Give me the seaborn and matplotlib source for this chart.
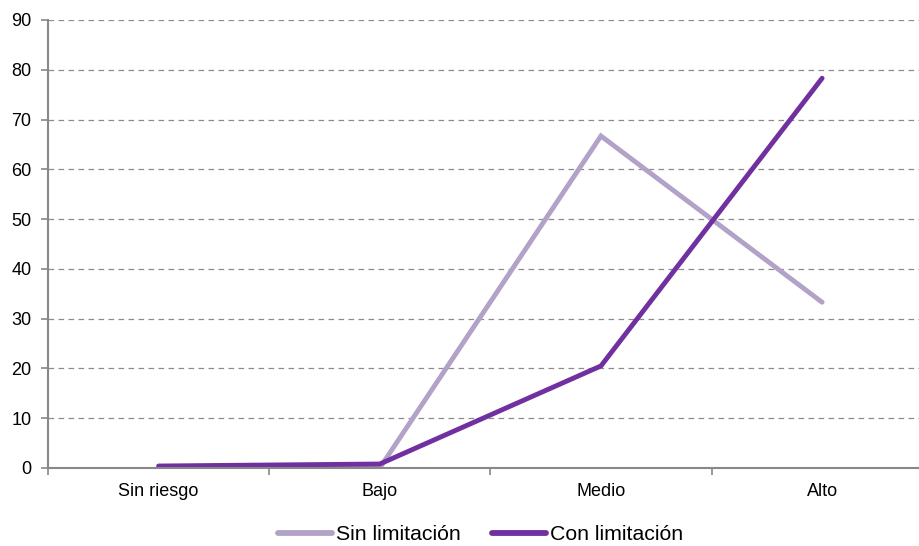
import matplotlib
matplotlib.use("Agg")
import matplotlib.pyplot as plt
import seaborn as sns
import pandas as pd
from matplotlib.ticker import FixedLocator
from matplotlib.lines import Line2D

categories = ["Sin riesgo", "Bajo", "Medio", "Alto"]
sin_limitacion = [0.0, 0.0, 66.7, 33.3]
con_limitacion = [0.4, 0.8, 20.5, 78.3]
series_names = ["Sin limitación", "Con limitación"]
y_ticks = [0, 10, 20, 30, 40, 50, 60, 70, 80, 90]

df = pd.DataFrame({
    "categoria": categories * 2,
    "valor": sin_limitacion + con_limitacion,
    "serie": [series_names[0]] * len(categories) + [series_names[1]] * len(categories),
})

sns.set_theme(style="white")
plt.rcParams["font.family"] = ["Liberation Sans", "DejaVu Sans"]
plt.rcParams["text.color"] = "black"

fig = plt.figure(figsize=(9.19, 5.46), dpi=100)
ax = fig.add_axes([48 / 919, 78 / 546, 884.7 / 919, 448 / 546])

palette = {series_names[0]: "#B3A2C7", series_names[1]: "#7030A0"}
sns.lineplot(data=df, x="categoria", y="valor", hue="serie", palette=palette,
             linewidth=3.5, ax=ax, sort=False, legend=False,
             solid_capstyle="round", solid_joinstyle="miter")

ax.set_xlim(-0.5, 3.5)
ax.set_ylim(0, 90)
ax.set_yticks(y_ticks)
ax.set_xticks(range(len(categories)))
ax.set_xticklabels(categories)
ax.xaxis.set_minor_locator(FixedLocator([-0.5, 0.5, 1.5, 2.5, 3.5]))
ax.set_xlabel("")
ax.set_ylabel("")

grid_color = "#8C8C8C"
for v in y_ticks[1:]:
    ax.axhline(v, color=grid_color, linewidth=0.9, linestyle=(0, (4.5, 3.5)), zorder=0)

for s in ["top", "right"]:
    ax.spines[s].set_visible(False)
for s in ["left", "bottom"]:
    ax.spines[s].set_color("#888888")
    ax.spines[s].set_linewidth(1.5)

ax.tick_params(axis="y", which="major", length=5, width=1.2, color="#888888",
               labelsize=13, labelcolor="black", pad=7, left=True, direction="out")
ax.tick_params(axis="x", which="major", length=0, labelsize=13, labelcolor="black", pad=11)
ax.tick_params(axis="x", which="minor", length=5, width=1.2, color="#888888",
               bottom=True, direction="out")

handles = [Line2D([0], [0], color=palette[n], linewidth=4.2, solid_capstyle="round")
           for n in series_names]
fig.legend(handles, series_names, loc="lower center", ncol=2, frameon=False,
           bbox_to_anchor=(0.523, -0.024), fontsize=15.3, handlelength=2.5,
           handletextpad=0.2, columnspacing=1.5, borderpad=0.2, labelcolor="black")

fig.savefig("out.png", dpi=100)
